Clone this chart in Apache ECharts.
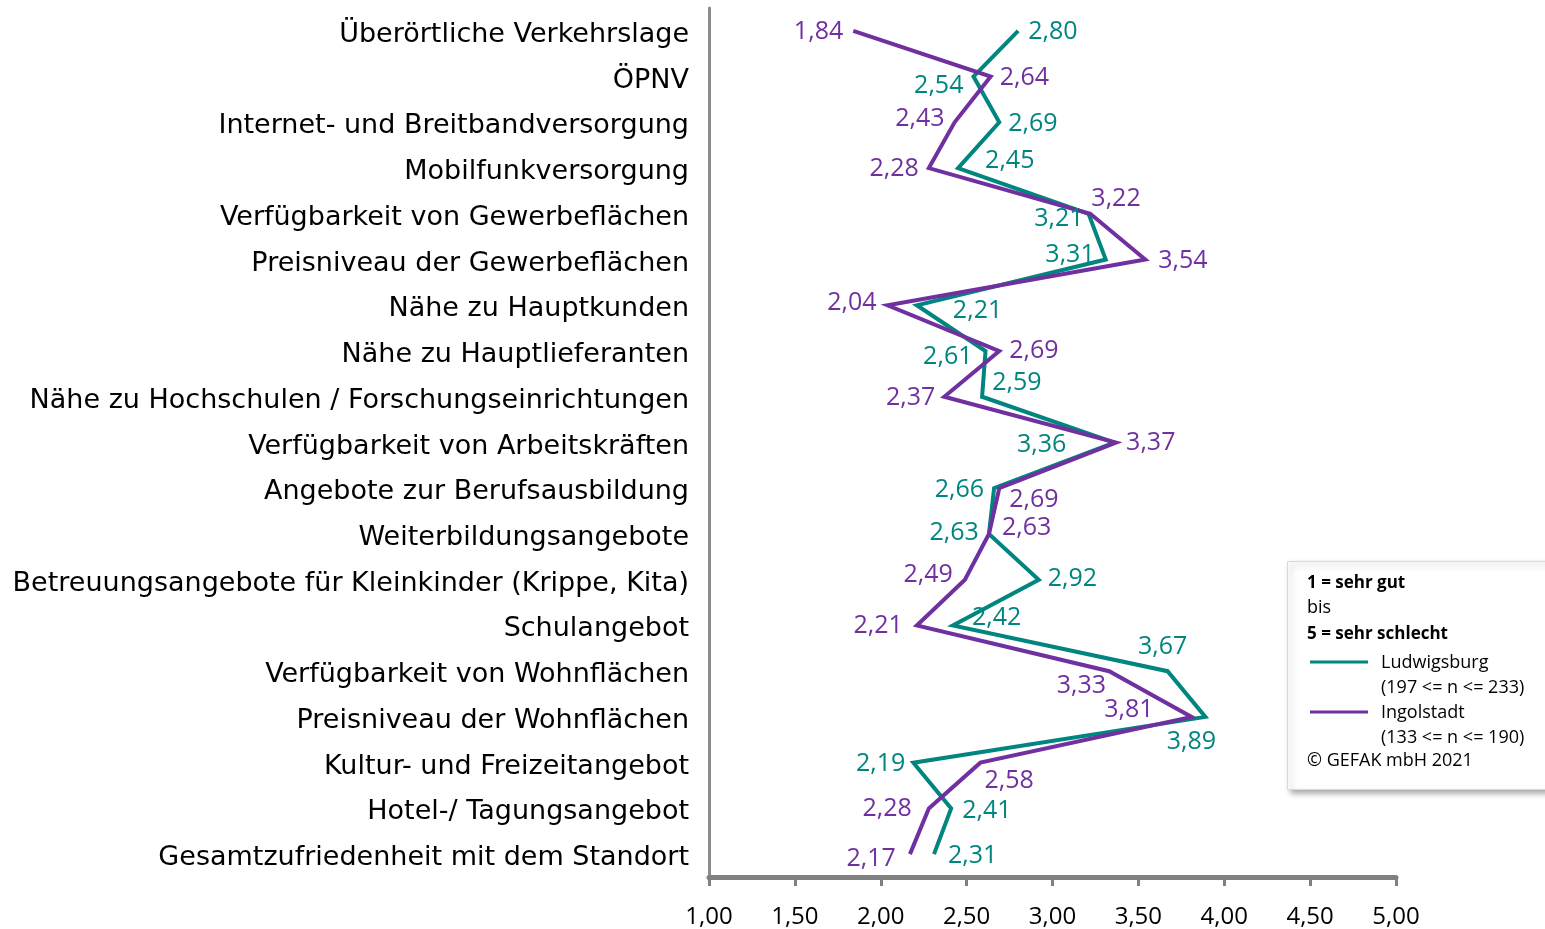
<!DOCTYPE html>
<html>
<head>
<meta charset="utf-8">
<script src="https://cdn.jsdelivr.net/npm/echarts@6/dist/echarts.min.js"></script>
<style>
	html, body { margin: 0; padding: 0; background: #fff; }
	#chart { width: 1545px; height: 929px; }
</style>
</head>
<body>
<div id="chart"></div>
<script>
// Kategorien (von oben nach unten)
var categories = [
	"Überörtliche Verkehrslage",
	"ÖPNV",
	"Internet- und Breitbandversorgung",
	"Mobilfunkversorgung",
	"Verfügbarkeit von Gewerbeflächen",
	"Preisniveau der Gewerbeflächen",
	"Nähe zu Hauptkunden",
	"Nähe zu Hauptlieferanten",
	"Nähe zu Hochschulen / Forschungseinrichtungen",
	"Verfügbarkeit von Arbeitskräften",
	"Angebote zur Berufsausbildung",
	"Weiterbildungsangebote",
	"Betreuungsangebote für Kleinkinder (Krippe, Kita)",
	"Schulangebot",
	"Verfügbarkeit von Wohnflächen",
	"Preisniveau der Wohnflächen",
	"Kultur- und Freizeitangebot",
	"Hotel-/ Tagungsangebot",
	"Gesamtzufriedenheit mit dem Standort"
];
var ludwigsburg = [2.80, 2.54, 2.69, 2.45, 3.21, 3.31, 2.21, 2.61, 2.59, 3.36, 2.66, 2.63, 2.92, 2.42, 3.67, 3.89, 2.19, 2.41, 2.31];
var ingolstadt  = [1.84, 2.64, 2.43, 2.28, 3.22, 3.54, 2.04, 2.69, 2.37, 3.37, 2.69, 2.63, 2.49, 2.21, 3.33, 3.81, 2.58, 2.28, 2.17];
var xTicks = [1.00, 1.50, 2.00, 2.50, 3.00, 3.50, 4.00, 4.50, 5.00];
var seriesNames = ["Ludwigsburg", "Ingolstadt"];
var seriesNotes = ["(197 <= n <= 233)", "(133 <= n <= 190)"];

var TEAL = '#00857f';
var PURPLE = '#7030a0';
var FONT = '"Open Sans", "DejaVu Sans", sans-serif';
var CAT_FONT = '"DejaVu Sans", "Open Sans", sans-serif';

// Lage der Wertbeschriftungen: [Position, Abstand, Versatz]
var placeL = [
	['right', 10, 0], ['left', 10, 8], ['right', 9, 1], ['right', 27, -8], ['left', 5, 4],
	['left', 11, -6], ['right', 36, 5], ['left', 13, 5], ['right', 10, -15], ['left', 48, 1],
	['left', 10, 1], ['left', 10, -2], ['right', 9, -2], ['right', 19, -9], ['top', 12, -5],
	['bottom', 12, -14], ['left', 8, 0], ['right', 11, 1], ['right', 14, 1]
];
var placeI = [
	['left', 10, 0], ['right', 9, 0], ['left', 10, -4], ['left', 10, 0], ['right', 1, -16],
	['right', 13, 0], ['left', 11, -3], ['right', 10, -1], ['left', 9, 0], ['right', 10, -1],
	['right', 10, 11], ['right', 13, -7], ['left', 12, -6], ['left', 14, -1], ['left', 3, 14],
	['left', 38, -8], ['right', 4, 17], ['left', 17, -1], ['left', 14, 4]
];

function fmt(v) {
	return v.toFixed(2).replace('.', ',');
}

function buildData(values, place) {
	var out = [];
	for (var i = 0; i < values.length; i++) {
		out.push({ value: values[i], label: { position: place[i][0], distance: place[i][1] } });
	}
	return out;
}

function makeSeries(name, values, place, color) {
	return {
		name: name,
		type: 'line',
		data: buildData(values, place),
		showSymbol: true,
		symbol: 'circle',
		symbolSize: 0.1,
		lineStyle: { color: color, width: 4, join: 'miter' },
		itemStyle: { color: color },
		label: {
			show: true,
			color: color,
			fontFamily: FONT,
			fontSize: 25,
			formatter: function (p) { return fmt(p.value); }
		},
		// Versatz je Punkt
		labelLayout: function (p) {
			var pl = place[p.dataIndex];
			if (pl[0] == 'top' || pl[0] == 'bottom') {
				return { dx: pl[2], dy: 0, hideOverlap: false };
			}
			return { dx: 0, dy: pl[2] + 1, hideOverlap: false };
		},
		emphasis: { disabled: true },
		animation: false,
		z: 3
	};
}

var myChart = echarts.init(document.getElementById('chart'));

var option = {
	animation: false,
	grid: {
		left: 709,
		right: 149,
		top: 8,
		bottom: 50,
		containLabel: false
	},
	xAxis: {
		type: 'value',
		min: xTicks[0],
		max: xTicks[xTicks.length - 1],
		interval: 0.5,
		axisLine: { show: true, lineStyle: { color: '#808080', width: 5, cap: 'round' } },
		axisTick: { show: true, length: 9, lineStyle: { color: '#808080', width: 3 } },
		splitLine: { show: false },
		axisLabel: {
			color: '#000',
			fontFamily: FONT,
			fontSize: 24,
			margin: 28,
			formatter: function (v) { return fmt(v); }
		}
	},
	yAxis: {
		type: 'category',
		inverse: true,
		data: categories,
		boundaryGap: true,
		axisLine: { show: true, lineStyle: { color: '#8c8c8c', width: 3 } },
		axisTick: { show: false },
		splitLine: { show: false },
		axisLabel: {
			color: '#000',
			margin: 20,
			interval: 0,
			formatter: function (v) { return '{c|' + v + '}'; },
			rich: {
				c: { fontFamily: CAT_FONT, fontSize: 27, color: '#000', padding: [8, 0, 0, 0] }
			}
		}
	},
	series: [
		makeSeries(seriesNames[0], ludwigsburg, placeL, TEAL),
		makeSeries(seriesNames[1], ingolstadt, placeI, PURPLE)
	],
	graphic: [
		{
			type: 'rect',
			left: 1287, top: 561,
			shape: { width: 270, height: 228 },
			style: {
				fill: '#fff', stroke: '#d9d9d9', lineWidth: 1,
				shadowColor: 'rgba(0,0,0,0.35)', shadowBlur: 6, shadowOffsetX: 3, shadowOffsetY: 3
			},
			z: 10
		},
		{
			type: 'text', left: 1307, top: 575, z: 11,
			style: { text: '1 = sehr gut', font: 'bold 17px ' + FONT, fill: '#000' }
		},
		{
			type: 'text', left: 1307, top: 599, z: 11,
			style: { text: 'bis', font: '18px ' + FONT, fill: '#000' }
		},
		{
			type: 'text', left: 1307, top: 626, z: 11,
			style: { text: '5 = sehr schlecht', font: 'bold 17px ' + FONT, fill: '#000' }
		},
		{
			type: 'line', z: 11,
			shape: { x1: 1310, y1: 662, x2: 1368, y2: 662 },
			style: { stroke: TEAL, lineWidth: 3 }
		},
		{
			type: 'text', left: 1381, top: 650, z: 11,
			style: { text: seriesNames[0] + '\n' + seriesNotes[0], font: '18px ' + FONT, fill: '#000', lineHeight: 25 }
		},
		{
			type: 'line', z: 11,
			shape: { x1: 1310, y1: 712, x2: 1368, y2: 712 },
			style: { stroke: PURPLE, lineWidth: 3 }
		},
		{
			type: 'text', left: 1381, top: 700, z: 11,
			style: { text: seriesNames[1] + '\n' + seriesNotes[1], font: '18px ' + FONT, fill: '#000', lineHeight: 25 }
		},
		{
			type: 'text', left: 1307, top: 752, z: 11,
			style: { text: '© GEFAK mbH 2021', font: '18px ' + FONT, fill: '#000' }
		}
	]
};

myChart.setOption(option);
window.addEventListener("resize", function () {
	myChart.resize();
});
</script>
</body>
</html>
